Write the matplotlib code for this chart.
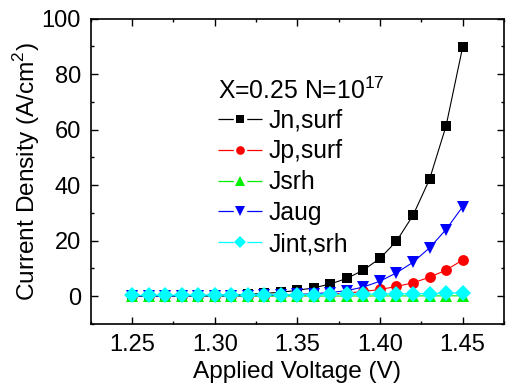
import matplotlib
matplotlib.use("Agg")
import matplotlib.pyplot as plt
from matplotlib.lines import Line2D
from matplotlib.ticker import MultipleLocator, FormatStrFormatter

plt.rcParams['font.family'] = ['Liberation Sans', 'DejaVu Sans']
plt.rcParams['mathtext.fontset'] = 'custom'
plt.rcParams['mathtext.rm'] = 'Liberation Sans'
plt.rcParams['lines.scale_dashes'] = False

voltage = [1.25, 1.26, 1.27, 1.28, 1.29, 1.30, 1.31, 1.32, 1.33, 1.34, 1.35,
           1.36, 1.37, 1.38, 1.39, 1.40, 1.41, 1.42, 1.43, 1.44, 1.45]

jn_surf = [0.05, 0.07, 0.10, 0.15, 0.21, 0.31, 0.46, 0.67, 1.0, 1.4, 2.1,
           3.0, 4.4, 6.4, 9.4, 13.6, 19.8, 29.1, 42.1, 61.3, 89.6]
jp_surf = [0.01, 0.01, 0.02, 0.03, 0.04, 0.06, 0.08, 0.12, 0.17, 0.25, 0.36,
           0.52, 0.75, 1.1, 1.7, 2.4, 3.5, 4.8, 6.8, 9.4, 13.0]
j_srh = [0.0, 0.0, 0.0, 0.01, 0.01, 0.01, 0.01, 0.02, 0.02, 0.03, 0.03,
         0.04, 0.04, 0.05, 0.06, 0.07, 0.08, 0.09, 0.10, 0.11, 0.13]
j_aug = [0.02, 0.03, 0.04, 0.06, 0.08, 0.11, 0.16, 0.22, 0.31, 0.44, 0.62,
         0.9, 1.3, 2.0, 3.3, 5.4, 8.4, 12.2, 17.4, 24.0, 32.2]
jint_srh = [0.30, 0.32, 0.34, 0.36, 0.38, 0.40, 0.42, 0.45, 0.48, 0.51, 0.54,
            0.58, 0.62, 0.66, 0.71, 0.76, 0.82, 0.88, 0.95, 1.05, 1.2]

labels = ["Jn,surf", "Jp,surf", "Jsrh", "Jaug", "Jint,srh"]
colors = ["black", "red", "#00ee00", "blue", "cyan"]
markers = ["s", "o", "^", "v", "D"]
sizes = [6.8, 7.8, 8.2, 8.2, 7.8]
data = [jn_surf, jp_surf, j_srh, j_aug, jint_srh]

fig = plt.figure(figsize=(5.10, 3.87), dpi=100)
ax = fig.add_axes([0.178, 0.163, 0.810, 0.789])

handles = []
for label, vals, color, marker, ms in zip(labels, data, colors, markers, sizes):
    ax.plot(voltage, vals, color=color, marker=marker, markersize=ms,
            linewidth=0.8, markeredgewidth=0)
    # legend key: line broken around the symbol
    handles.append(Line2D([], [], color=color, marker=marker,
                          markersize=ms * 0.8, markeredgewidth=0,
                          linewidth=0.9,
                          linestyle=(0, (11.0, 9.7, 11.0, 10.0)),
                          label=label))

ax.set_xlim(1.225, 1.475)
ax.set_ylim(-10, 100)
ax.xaxis.set_major_locator(MultipleLocator(0.05))
ax.xaxis.set_minor_locator(MultipleLocator(0.025))
ax.yaxis.set_major_locator(MultipleLocator(20))
ax.yaxis.set_minor_locator(MultipleLocator(10))
ax.xaxis.set_major_formatter(FormatStrFormatter('%.2f'))

ax.tick_params(which='both', direction='in', top=True, right=True,
               labelsize=17, width=1.0)
ax.tick_params(which='major', length=5, pad=7)
ax.tick_params(which='minor', length=2.5)
for sp in ax.spines.values():
    sp.set_linewidth(1.2)

ax.set_xlabel("Applied Voltage (V)", fontsize=17.6, labelpad=4)
ax.set_ylabel("Current Density (A/cm$^2$)", fontsize=17.6, labelpad=0)

ax.text(0.308, 0.762, "X=0.25 N=10$^{17}$", transform=ax.transAxes,
        fontsize=17.8, ha='left', va='center')

ax.legend(handles=handles, loc='upper left', bbox_to_anchor=(0.308, 0.706),
          frameon=False, fontsize=17.8, handlelength=1.78,
          handletextpad=0.25, labelspacing=0.28, borderpad=0,
          borderaxespad=0)

fig.savefig("out.png", dpi=100)
